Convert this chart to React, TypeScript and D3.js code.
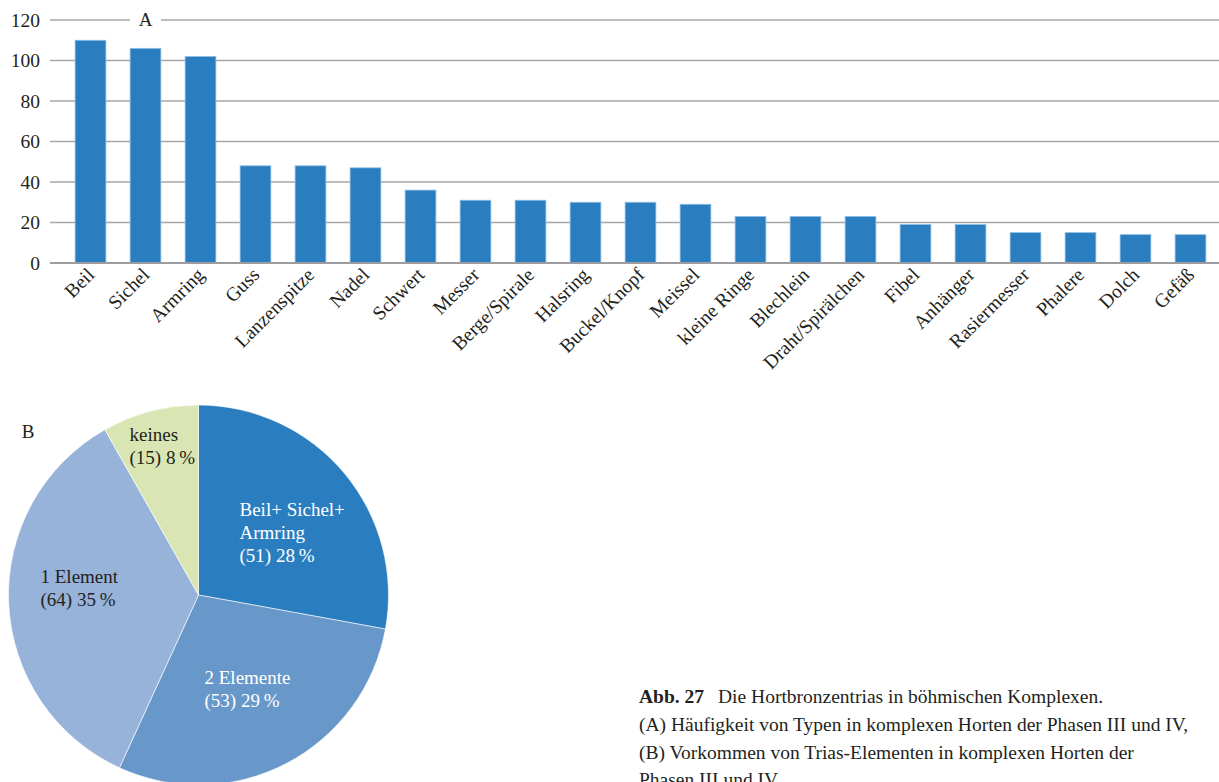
import React from "react";
import * as d3 from "d3";

const categories = ["Beil","Sichel","Armring","Guss","Lanzenspitze","Nadel","Schwert","Messer","Berge/Spirale","Halsring","Buckel/Knopf","Meissel","kleine Ringe","Blechlein","Draht/Spirälchen","Fibel","Anhänger","Rasiermesser","Phalere","Dolch","Gefäß"];
const counts = [110,106,102,48,48,47,36,31,31,30,30,29,23,23,23,19,19,15,15,14,14];
const yTicks = [0,20,40,60,80,100,120];

const pieLabels = ["Beil+ Sichel+|Armring", "2 Elemente", "1 Element", "keines"];
const pieValues = [51, 53, 64, 15];
const piePercents = ["28", "29", "35", "8"];
const pieColors = ["#2a7ebf", "#6897c9", "#97b3d9", "#d9e6b3"];
const pieTextColors = ["#ffffff", "#ffffff", "#231f20", "#231f20"];

const captionLines = [
  "(A) Häufigkeit von Typen in komplexen Horten der Phasen III und IV,",
  "(B) Vorkommen von Trias-Elementen in komplexen Horten der",
  "Phasen III und IV."
];

const FONT = "'Liberation Serif', 'DejaVu Serif', serif";

export default function App() {
  const W = 1219, H = 782;
  const y = d3.scaleLinear().domain([0, 120]).range([263, 20]);
  const x = d3.scaleBand<string>().domain(categories).range([63, 1218]).paddingInner(0.44).paddingOuter(0.22);
  const gridX0 = 50, gridX1 = 1219;

  const pieGen = d3.pie<number>().sort(null).value(d => d);
  const arcs = pieGen(pieValues);
  const r = 190;
  const cx = 198.5, cy = 595;
  const arcGen = d3.arc<d3.PieArcDatum<number>>().innerRadius(0).outerRadius(r);

  const labelPos = [
    { x: 41, y: -79 },
    { x: 6, y: 89 },
    { x: -158, y: -12 },
    { x: -69, y: -154 },
  ];

  return (
    <svg width={W} height={H} style={{ position: "absolute", left: 0, top: 0, background: "#fff" }} fontFamily={FONT}>
      {yTicks.filter(t => t > 0).map(t => (
        t === 120 ? (
          <g key={t}>
            <line x1={gridX0} x2={130} y1={y(t)} y2={y(t)} stroke="#a6a6a6" strokeWidth={1.3} />
            <line x1={161} x2={gridX1} y1={y(t)} y2={y(t)} stroke="#a6a6a6" strokeWidth={1.3} />
          </g>
        ) : (
          <line key={t} x1={gridX0} x2={gridX1} y1={y(t)} y2={y(t)} stroke="#a6a6a6" strokeWidth={1.3} />
        )
      ))}
      <text x={145.5} y={y(120) + 6} fontSize={19} textAnchor="middle" fill="#231f20">A</text>
      {categories.map((c, i) => (
        <rect key={c} x={x(c)} y={y(counts[i])} width={x.bandwidth()} height={y(0) - y(counts[i])}
          fill="#2a7ebf" stroke="#8fc0e6" strokeWidth={0.8} />
      ))}
      <line x1={gridX0} x2={gridX1} y1={y(0)} y2={y(0)} stroke="#9d9d9f" strokeWidth={2} />
      {yTicks.map(t => (
        <text key={t} x={40} y={y(t) + 6.5} fontSize={19.5} textAnchor="end" fill="#231f20">{t}</text>
      ))}
      {categories.map(c => {
        const px = (x(c) as number) + x.bandwidth() / 2 + 5;
        const py = 276;
        return (
          <text key={c} x={px} y={py} fontSize={19.5} textAnchor="end" fill="#231f20"
            transform={`rotate(-45, ${px}, ${py})`}>{c}</text>
        );
      })}

      <text x={28} y={438} fontSize={19} fill="#231f20" textAnchor="middle">B</text>
      <g transform={`translate(${cx},${cy})`}>
        {arcs.map((a, i) => (
          <path key={i} d={arcGen(a) as string} fill={pieColors[i]} stroke="#ffffff" strokeWidth={0.6} />
        ))}
        {arcs.map((a, i) => {
          const lines = pieLabels[i].split("|").concat([`(${pieValues[i]}) ${piePercents[i]}\u2009%`]);
          const p = labelPos[i];
          return (
            <text key={"l" + i} x={p.x} y={p.y} fontSize={19} fill={pieTextColors[i]}>
              {lines.map((ln, k) => (
                <tspan key={k} x={p.x} dy={k === 0 ? 0 : 23}>{ln}</tspan>
              ))}
            </text>
          );
        })}
      </g>

      <text x={639} y={703} fontSize={19.5} fill="#231f20">
        <tspan fontWeight="bold">Abb. 27</tspan>
        <tspan dx={14}>Die Hortbronzentrias in böhmischen Komplexen.</tspan>
      </text>
      {captionLines.map((ln, i) => (
        <text key={i} x={639} y={731 + i * 27.5} fontSize={19.5} fill="#231f20">{ln}</text>
      ))}
    </svg>
  );
}
